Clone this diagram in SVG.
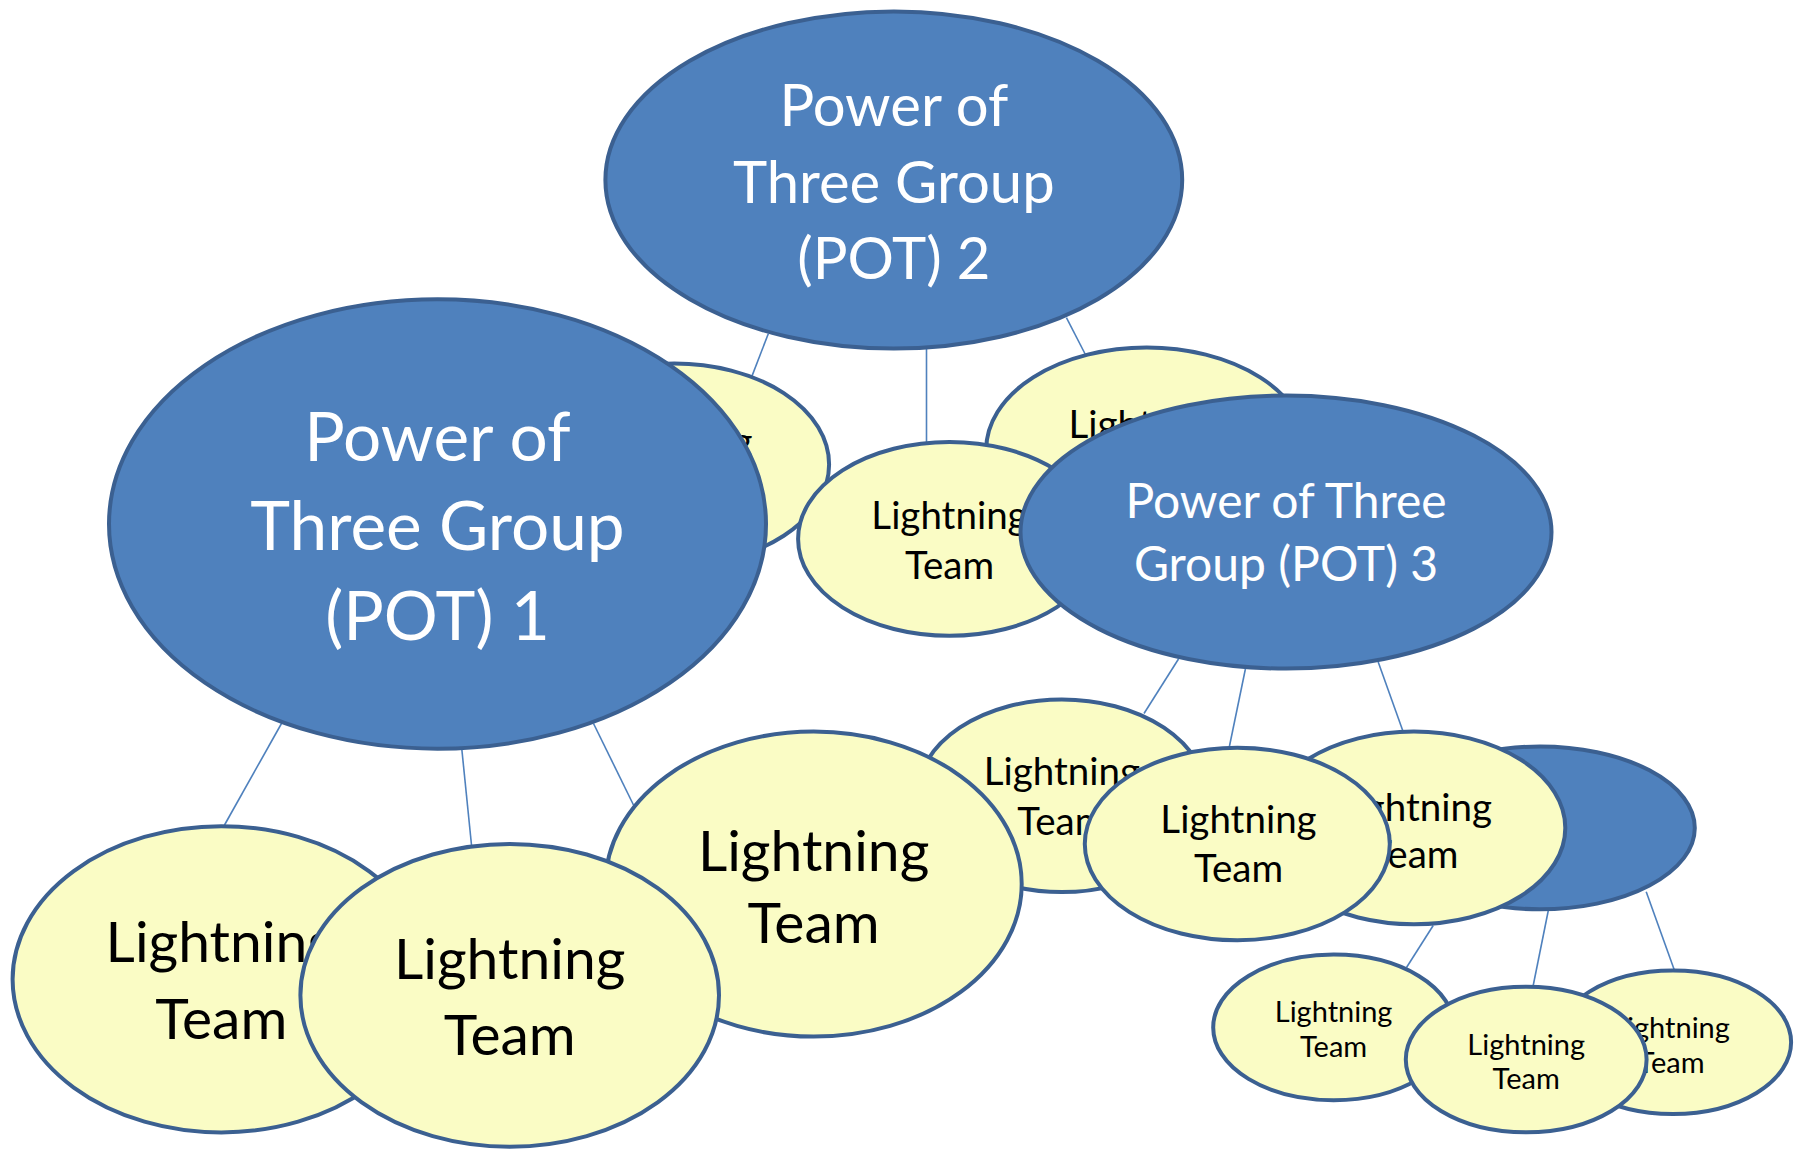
<svg xmlns="http://www.w3.org/2000/svg" width="1798" height="1150" viewBox="0 0 1798 1150">
<style>
.pot{fill:#4F81BD;stroke:#3B6091;stroke-width:4}
.lt{fill:#FAFCC5;stroke:#3B6091;stroke-width:4}
.c{stroke:#4F81BD;stroke-width:1.6;fill:none}
text{font-family:Lato,"Open Sans","Liberation Sans",sans-serif;text-anchor:middle}
.wt{fill:#FFFFFF}
.bk{fill:#000000}
.f1{font-size:67.5px}
.f2{font-size:58px}
.f3{font-size:48px}
.fb{font-size:57px}
.fm{font-size:38.5px}
.fs{font-size:29px}
</style>
<rect width="1798" height="1150" fill="#FFFFFF"/>
<g id="connectors">
<line class="c" x1="768.3" y1="333.7" x2="751.1" y2="378.4"/>
<line class="c" x1="926.5" y1="348.6" x2="926.5" y2="443.8"/>
<line class="c" x1="1066.4" y1="317.6" x2="1085.9" y2="355.5"/>
<line class="c" x1="284" y1="719" x2="223.4" y2="827"/>
<line class="c" x1="461.8" y1="749" x2="471.5" y2="845"/>
<line class="c" x1="593.5" y1="723.5" x2="633.5" y2="805"/>
<line class="c" x1="1178.5" y1="659" x2="1144" y2="713.5"/>
<line class="c" x1="1245.4" y1="669" x2="1229.3" y2="747"/>
<line class="c" x1="1378.2" y1="662" x2="1402.7" y2="730.5"/>
<line class="c" x1="1433.2" y1="925.5" x2="1406.5" y2="967.5"/>
<line class="c" x1="1548.5" y1="909.5" x2="1533" y2="986.5"/>
<line class="c" x1="1646.2" y1="891.8" x2="1674.5" y2="970.5"/>
</g>
<g id="pot2">
<ellipse class="pot" cx="893.8" cy="180" rx="288.4" ry="168.6"/>
<text class="wt f2" x="893.8" y="126">Power of</text>
<text class="wt f2" x="893.8" y="203">Three Group</text>
<text class="wt f2" x="893.8" y="279">(POT) 2</text>
</g>
<g id="lt1">
<ellipse class="lt" cx="674.3" cy="464.4" rx="154.8" ry="100.9"/>
<text class="bk fm" x="674.3" y="455">Lightning</text>
<text class="bk fm" x="674.3" y="504">Team</text>
</g>
<g id="pot1">
<ellipse class="pot" cx="437.5" cy="524" rx="328.5" ry="224.7"/>
<text class="wt f1" x="437.5" y="461">Power of</text>
<text class="wt f1" x="437.5" y="550">Three Group</text>
<text class="wt f1" x="437.5" y="640">(POT) 1</text>
</g>
<g id="lt2">
<ellipse class="lt" cx="1146.7" cy="449.5" rx="160.5" ry="102"/>
<text class="bk fm" x="1146.7" y="438">Lightning</text>
<text class="bk fm" x="1146.7" y="488">Team</text>
</g>
<g id="lt3">
<ellipse class="lt" cx="949.5" cy="538.9" rx="151.4" ry="96.9"/>
<text class="bk fm" x="949.5" y="529">Lightning</text>
<text class="bk fm" x="949.5" y="579">Team</text>
</g>
<g id="pot3">
<ellipse class="pot" cx="1286" cy="532.1" rx="265.5" ry="136.5"/>
<text class="wt f3" x="1286" y="518">Power of Three</text>
<text class="wt f3" x="1286" y="581">Group (POT) 3</text>
</g>
<g id="lt4">
<ellipse class="lt" cx="221.3" cy="979.3" rx="208.7" ry="153.1"/>
<text class="bk fb" x="221.3" y="962">Lightning</text>
<text class="bk fb" x="221.3" y="1039">Team</text>
</g>
<g id="lt7">
<ellipse class="lt" cx="1061.8" cy="795.8" rx="144.5" ry="96.3"/>
<text class="bk fm" x="1061.8" y="785">Lightning</text>
<text class="bk fm" x="1061.8" y="835">Team</text>
</g>
<g id="lt6">
<ellipse class="lt" cx="813.6" cy="884.1" rx="208.1" ry="152.5"/>
<text class="bk fb" x="813.6" y="871">Lightning</text>
<text class="bk fb" x="813.6" y="943">Team</text>
</g>
<g id="lt5">
<ellipse class="lt" cx="509.7" cy="995.3" rx="209.3" ry="151.4"/>
<text class="bk fb" x="509.7" y="979">Lightning</text>
<text class="bk fb" x="509.7" y="1055">Team</text>
</g>
<g id="pot4">
<ellipse class="pot" cx="1540" cy="827.9" rx="154.8" ry="81.4"/>
</g>
<g id="lt9">
<ellipse class="lt" cx="1413.9" cy="827.9" rx="151.4" ry="96.3"/>
<text class="bk fm" x="1413.9" y="821">Lightning</text>
<text class="bk fm" x="1413.9" y="868">Team</text>
</g>
<g id="lt8">
<ellipse class="lt" cx="1237.3" cy="844" rx="152.5" ry="96.3"/>
<text class="bk fm" x="1238.5" y="832.5">Lightning</text>
<text class="bk fm" x="1238.5" y="882">Team</text>
</g>
<g id="lt10">
<ellipse class="lt" cx="1333.6" cy="1027.4" rx="120.4" ry="72.8"/>
<text class="bk fs" x="1333.6" y="1021.5">Lightning</text>
<text class="bk fs" x="1333.6" y="1057">Team</text>
</g>
<g id="lt12">
<ellipse class="lt" cx="1673" cy="1042.3" rx="118.1" ry="71.7"/>
<text class="bk fs" x="1671" y="1038">Lightning</text>
<text class="bk fs" x="1671" y="1073">Team</text>
</g>
<g id="lt11">
<ellipse class="lt" cx="1526.2" cy="1059.5" rx="120.4" ry="72.8"/>
<text class="bk fs" x="1526.2" y="1055">Lightning</text>
<text class="bk fs" x="1526.2" y="1089">Team</text>
</g>
</svg>
